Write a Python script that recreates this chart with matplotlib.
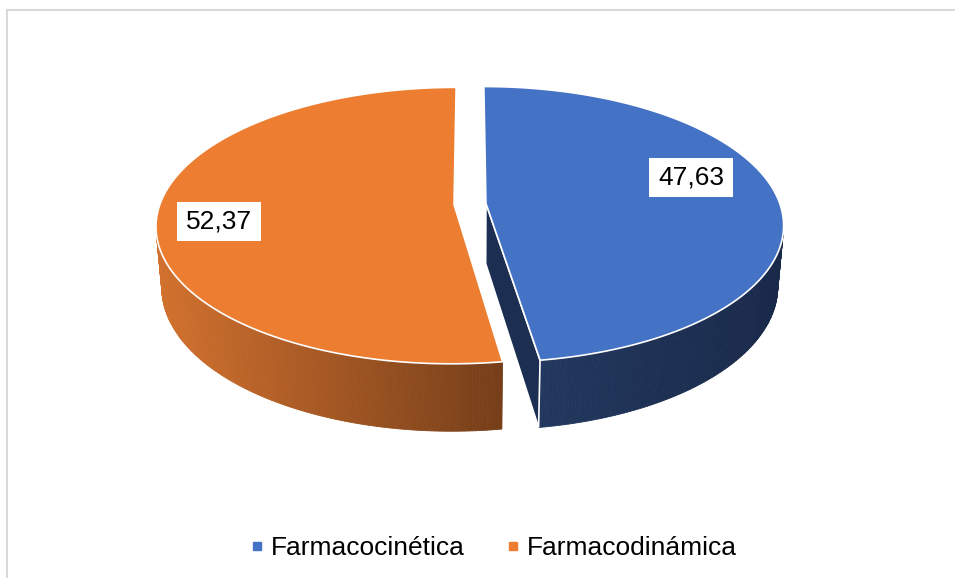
import numpy as np
import matplotlib
matplotlib.use("Agg")
import matplotlib.pyplot as plt
from matplotlib.patches import Polygon, Rectangle
from matplotlib.lines import Line2D
from matplotlib.colors import to_rgb

categories = ["Farmacocinética", "Farmacodinámica"]
values = [47.63, 52.37]
value_labels = ["47,63", "52,37"]
top_colors = ["#4472c4", "#ed7d31"]
wall_left = ["#22385e", "#d2712e"]
wall_right = ["#19294a", "#763e19"]
face_colors = ["#1c2f52", "#c9692b"]
label_pos = [(691, 177), (219, 221)]

plt.rcParams["font.family"] = ["Liberation Sans", "DejaVu Sans"]

fig = plt.figure(figsize=(9.55, 5.78), dpi=100)
ax = fig.add_axes([0, 0, 1, 1])
ax.set_xlim(0, 955)
ax.set_ylim(578, 0)
ax.axis("off")

# chart area border (top and left only visible)
ax.add_line(Line2D([7, 7], [578, 9.5], color="#d9d9d9", lw=1.5))
ax.add_line(Line2D([7, 955], [9.5, 9.5], color="#d9d9d9", lw=1.5))

# 3d view settings
cx, cy = 470, 204
R = 294
thick = 69
phi = np.radians(27.3)
D = 1717
explode = 16
cam = np.array([0.0, D * np.cos(phi)])


def project(X, Z, H):
    v = Z * np.sin(phi) - H * np.cos(phi)
    w = Z * np.cos(phi) + H * np.sin(phi)
    s = D / (D - w)
    return cx + X * s, cy + v * s


def lerp(c1, c2, t):
    a, b = np.array(to_rgb(c1)), np.array(to_rgb(c2))
    return tuple(a + (b - a) * t)


bounds = np.concatenate([[0], np.cumsum(values)]) / sum(values) * 2 * np.pi
edge = dict(edgecolor="white", lw=1.2)

for i in [1, 0]:
    t0, t1 = bounds[i], bounds[i + 1]
    mid = (t0 + t1) / 2
    ox, oz = explode * np.sin(mid), -explode * np.cos(mid)
    ts = np.linspace(t0, t1, 300)
    rx = ox + R * np.sin(ts)
    rz = oz - R * np.cos(ts)
    tx, ty = project(rx, rz, 0)
    bx, by = project(rx, rz, -thick)
    vtx = project(ox, oz, 0)
    vbx = project(ox, oz, -thick)

    # outer wall, only the part facing the camera
    vis = []
    for j in range(len(ts) - 1):
        tm = (ts[j] + ts[j + 1]) / 2
        n = np.array([np.sin(tm), -np.cos(tm)])
        p = np.array([(rx[j] + rx[j + 1]) / 2, (rz[j] + rz[j + 1]) / 2])
        if np.dot(cam - p, n) > 0:
            vis.append(j)
    if vis:
        xs = [(tx[j] + tx[j + 1]) / 2 for j in vis]
        xmin, xmax = min(xs), max(xs)
        for j in vis:
            f = ((tx[j] + tx[j + 1]) / 2 - xmin) / max(xmax - xmin, 1)
            col = lerp(wall_left[i], wall_right[i], f)
            quad = [(tx[j], ty[j]), (tx[j + 1], ty[j + 1]),
                    (bx[j + 1], by[j + 1]), (bx[j], by[j])]
            ax.add_patch(Polygon(quad, closed=True, facecolor=col,
                                 edgecolor=col, lw=0.6, zorder=2))

    # radial cut faces
    for t, sign, k in [(t0, -1, 0), (t1, 1, -1)]:
        n = sign * np.array([np.cos(t), np.sin(t)])
        p = np.array([ox, oz])
        if np.dot(cam - p, n) > 0:
            quad = [vtx, (tx[k], ty[k]), (bx[k], by[k]), vbx]
            ax.add_patch(Polygon(quad, closed=True, facecolor=face_colors[i],
                                 zorder=3, **edge))

    # top face
    top = [vtx] + list(zip(tx, ty))
    ax.add_patch(Polygon(top, closed=True, facecolor=top_colors[i],
                         zorder=4, **edge))

# value labels
for (lx, ly), txt in zip(label_pos, value_labels):
    ax.add_patch(Rectangle((lx - 42, ly - 19.5), 84, 39, facecolor="white",
                           edgecolor="none", zorder=5))
    ax.text(lx, ly + 1, txt, fontsize=19, ha="center", va="center",
            color="black", zorder=6)

handles = [Line2D([], [], marker="s", ls="", color=c, markersize=6)
           for c in top_colors]
fig.legend(handles, categories, loc="center", ncol=2,
           bbox_to_anchor=(493 / 955, 1 - 548 / 578), frameon=False,
           fontsize=19, handlelength=0.6, handletextpad=0.25,
           columnspacing=1.5)

fig.savefig("out.png", dpi=100)
